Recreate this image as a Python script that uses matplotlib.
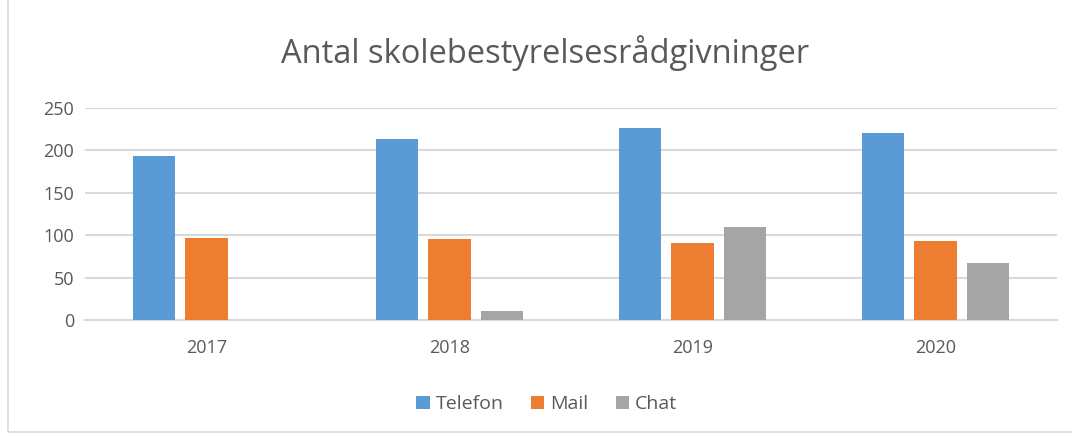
import matplotlib

matplotlib.use("Agg")
import matplotlib.pyplot as plt
import numpy as np
from matplotlib.patches import Rectangle

years = ["2017", "2018", "2019", "2020"]
telefon = [194, 213, 226, 220]
mail = [97, 96, 91, 93]
chat = [0, 11, 110, 67]

series = [("Telefon", telefon, "#5b9bd5"), ("Mail", mail, "#ed7d31"), ("Chat", chat, "#a5a5a5")]
text_color = "#595959"
grid_color = "#d9d9d9"

plt.rcParams["font.family"] = ["Open Sans", "DejaVu Sans"]

fig = plt.figure(figsize=(10.72, 4.37), dpi=100)
ax = fig.add_axes([0.0793, 0.2677, 0.9067, 0.4851])

x = np.arange(len(years))
width = 0.173
step = 0.218
for i, (name, vals, color) in enumerate(series):
    ax.bar(x + (i - 1) * step, vals, width, color=color, label=name, zorder=3)

ax.set_xlim(-0.5, len(years) - 0.5)
ax.set_ylim(0, 250)
ax.set_yticks(range(0, 251, 50))
ax.set_xticks(x)
ax.set_xticklabels(years)
ax.grid(axis="y", color=grid_color, linewidth=1.5, zorder=0)
for side in ["top", "right", "left"]:
    ax.spines[side].set_visible(False)
ax.spines["bottom"].set_color(grid_color)
ax.spines["bottom"].set_linewidth(1.5)
ax.tick_params(length=0, labelsize=13, colors=text_color, pad=8)
ax.tick_params(axis="x", pad=14)

fig.text(0.508, 0.878, "Antal skolebestyrelsesrådgivninger", ha="center", va="center",
         fontsize=23.5, color=text_color)

fig.legend(loc="center", bbox_to_anchor=(0.51, 0.075), ncol=3, frameon=False,
           fontsize=14, labelcolor=text_color, handlelength=0.7, handleheight=0.7,
           handletextpad=0.3, columnspacing=1.4)

fig.patches.append(Rectangle((0.0075, 0.011), 1.2, 1.2, transform=fig.transFigure,
                             fill=False, edgecolor=grid_color, linewidth=1.2))

fig.savefig("out.png", dpi=100)
